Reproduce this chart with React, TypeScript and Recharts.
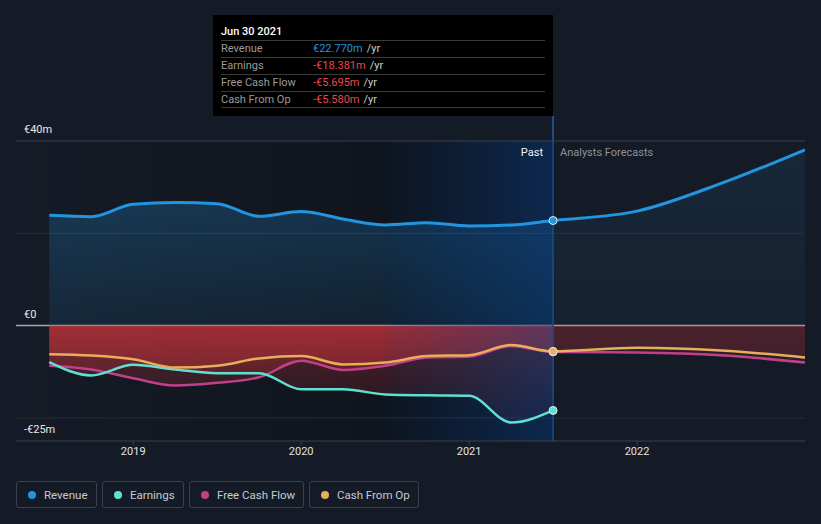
import React from "react";
import {
  ComposedChart,
  Area,
  Line,
  XAxis,
  YAxis,
  ReferenceLine,
  ReferenceArea,
  ReferenceDot,
} from "recharts";

// quarterly trailing figures, €m
const quarters = [
  2018.5, 2018.75, 2019, 2019.25, 2019.5, 2019.75, 2020, 2020.25, 2020.5,
  2020.75, 2021, 2021.25, 2021.5,
];
const revenuePast = [23.9, 23.6, 26.3, 26.7, 26.4, 23.7, 24.7, 23.1, 21.8, 22.3, 21.6, 21.8, 22.77];
const earningsPast = [-7.9, -10.8, -8.5, -9.5, -10.3, -10.3, -13.8, -13.8, -14.9, -15.1, -15.2, -21.0, -18.381];
const fcfPast = [-8.7, -9.5, -11.4, -13.0, -12.4, -11.2, -7.6, -9.6, -8.7, -6.9, -6.7, -4.4, -5.695];
const cfoPast = [-6.2, -6.5, -7.3, -9.1, -8.7, -7.1, -6.6, -8.4, -8.0, -6.6, -6.4, -4.2, -5.58];

// analyst forecasts
const forecastYears = [2021.5, 2022, 2022.5, 2023];
const revenueForecast = [22.77, 24.8, 30.8, 38.1];
const fcfForecast = [-5.695, -5.8, -6.4, -8.0];
const cfoForecast = [-5.58, -4.8, -5.4, -6.9];

const yearTicks = [2019, 2020, 2021, 2022];

const BG = "#151b26";
const BLUE = "#2394df";
const TEAL = "#5fe0d2";
const PINK = "#c2408a";
const ORANGE = "#e9ae5c";
const NEG = "#e8484e";

const times = [...quarters, ...forecastYears.slice(1)];
const data = times.map((t) => {
  const p = quarters.indexOf(t);
  const f = forecastYears.indexOf(t);
  const past = p >= 0;
  return {
    t,
    revenue: past ? revenuePast[p] : revenueForecast[f],
    earnings: past ? earningsPast[p] : undefined,
    fcf: past ? fcfPast[p] : fcfForecast[f],
    cfo: past ? cfoPast[p] : cfoForecast[f],
    revP: past ? revenuePast[p] : undefined,
    revF: f >= 0 ? revenueForecast[f] : undefined,
    earnP: past ? earningsPast[p] : undefined,
    fcfP: past ? fcfPast[p] : undefined,
    cfoP: past ? cfoPast[p] : undefined,
    fcfF: f >= 0 ? fcfForecast[f] : undefined,
    cfoF: f >= 0 ? cfoForecast[f] : undefined,
  };
});

const last = quarters.length - 1;

const tooltipRows = [
  { label: "Revenue", value: "€22.770m", color: BLUE },
  { label: "Earnings", value: "-€18.381m", color: NEG },
  { label: "Free Cash Flow", value: "-€5.695m", color: NEG },
  { label: "Cash From Op", value: "-€5.580m", color: NEG },
];

const legendItems = [
  { name: "Revenue", color: BLUE, left: 16, width: 81 },
  { name: "Earnings", color: TEAL, left: 102, width: 82 },
  { name: "Free Cash Flow", color: PINK, left: 189, width: 115 },
  { name: "Cash From Op", color: ORANGE, left: 309, width: 110 },
];

const axisLabel = (value: string) => ({
  value,
  position: "insideBottomLeft" as const,
  offset: 8,
  fill: "#e6e8eb",
  fontSize: 11,
});

export default function App() {
  return (
    <div
      style={{
        position: "relative",
        width: 821,
        height: 524,
        background: BG,
        fontFamily: "Roboto, 'Open Sans', sans-serif",
        overflow: "hidden",
      }}
    >
      <style>{`body{margin:0;background:${BG}}`}</style>
      <ComposedChart
        width={821}
        height={524}
        data={data}
        margin={{ top: 141, right: 16, bottom: 53, left: 16 }}
      >
        <defs>
          <linearGradient id="blueP" gradientUnits="userSpaceOnUse" x1="0" y1="141" x2="0" y2="326">
            <stop offset="0" stopColor={BLUE} stopOpacity={0.32} />
            <stop offset="1" stopColor={BLUE} stopOpacity={0.1} />
          </linearGradient>
          <linearGradient id="blueF" gradientUnits="userSpaceOnUse" x1="0" y1="141" x2="0" y2="326">
            <stop offset="0" stopColor={BLUE} stopOpacity={0.11} />
            <stop offset="1" stopColor={BLUE} stopOpacity={0.05} />
          </linearGradient>
          <linearGradient id="redP" gradientUnits="userSpaceOnUse" x1="0" y1="326" x2="0" y2="441">
            <stop offset="0" stopColor="#d8353c" stopOpacity={0.34} />
            <stop offset="1" stopColor="#d8353c" stopOpacity={0.02} />
          </linearGradient>
          <linearGradient id="redF" gradientUnits="userSpaceOnUse" x1="0" y1="326" x2="0" y2="441">
            <stop offset="0" stopColor="#c8303c" stopOpacity={0.16} />
            <stop offset="1" stopColor="#c8303c" stopOpacity={0.06} />
          </linearGradient>
          <linearGradient id="shade" x1="0" y1="0" x2="1" y2="0">
            <stop offset="0" stopColor="#000" stopOpacity={0} />
            <stop offset="1" stopColor="#000" stopOpacity={0.25} />
          </linearGradient>
          <linearGradient id="highlight" x1="0" y1="0" x2="1" y2="0">
            <stop offset="0" stopColor="#0a4696" stopOpacity={0.06} />
            <stop offset="1" stopColor="#0a4696" stopOpacity={0.42} />
          </linearGradient>
        </defs>

        <XAxis
          dataKey="t"
          type="number"
          domain={[2018.302, 2023]}
          ticks={yearTicks}
          allowDataOverflow
          height={30}
          tickSize={4}
          axisLine={{ stroke: "#3b404a" }}
          tickLine={{ stroke: "#3b404a" }}
          tick={{ fill: "#e0e2e6", fontSize: 11 }}
        />
        <YAxis type="number" domain={[-25, 40]} hide allowDataOverflow />

        <ReferenceArea x1={2018.302} x2={2020.5} fill="url(#shade)" fillOpacity={1} zIndex={-50} />
        <ReferenceArea x1={2020.5} x2={2021.5} fill="#000" fillOpacity={0.32} zIndex={-50} />
        <ReferenceLine y={40} stroke="#3d424c" label={axisLabel("€40m")} zIndex={-40} />
        <ReferenceLine y={20} stroke="#262c37" zIndex={-40} />
        <ReferenceLine y={-20} stroke="#262c37" zIndex={-40} />
        <ReferenceLine y={-25} stroke="none" label={axisLabel("-€25m")} zIndex={-40} />
        <ReferenceLine y={0} stroke="#a9abb0" strokeWidth={1.5} label={axisLabel("€0")} zIndex={-40} />

        <Area dataKey="revP" type="monotone" stroke="none" fill="url(#blueP)" fillOpacity={1} isAnimationActive={false} zIndex={100} />
        <Area dataKey="revF" type="monotone" stroke="none" fill="url(#blueF)" fillOpacity={1} isAnimationActive={false} zIndex={100} />
        <Area dataKey="earnP" type="monotone" stroke="none" fill="url(#redP)" fillOpacity={1} isAnimationActive={false} zIndex={100} />
        <Area dataKey="fcfP" type="monotone" stroke="none" fill="url(#redP)" fillOpacity={1} isAnimationActive={false} zIndex={100} />
        <Area dataKey="cfoP" type="monotone" stroke="none" fill="url(#redP)" fillOpacity={1} isAnimationActive={false} zIndex={100} />
        <Area dataKey="fcfF" type="monotone" stroke="none" fill="url(#redF)" fillOpacity={1} isAnimationActive={false} zIndex={100} />
        <Area dataKey="cfoF" type="monotone" stroke="none" fill="url(#redF)" fillOpacity={1} isAnimationActive={false} zIndex={100} />

        <ReferenceArea x1={2020.5} x2={2021.5} fill="url(#highlight)" fillOpacity={1} zIndex={150} />
        <ReferenceLine x={2021.5} stroke="#1d4c85" strokeWidth={1.5} zIndex={160} />

        <Line dataKey="revenue" type="monotone" stroke={BLUE} strokeWidth={3} dot={false} activeDot={false} isAnimationActive={false} zIndex={400} />
        <Line dataKey="fcf" type="monotone" stroke={PINK} strokeWidth={2.5} dot={false} activeDot={false} isAnimationActive={false} zIndex={400} />
        <Line dataKey="earnings" type="monotone" stroke={TEAL} strokeWidth={2.5} dot={false} activeDot={false} isAnimationActive={false} zIndex={400} />
        <Line dataKey="cfo" type="monotone" stroke={ORANGE} strokeWidth={2.5} dot={false} activeDot={false} isAnimationActive={false} zIndex={400} />

        <ReferenceDot x={quarters[last]} y={revenuePast[last]} r={4} fill={BLUE} stroke="#dfe7f0" strokeWidth={1} zIndex={600} />
        <ReferenceDot x={quarters[last]} y={earningsPast[last]} r={4} fill={TEAL} stroke="#dfe7f0" strokeWidth={1} zIndex={600} />
        <ReferenceDot x={quarters[last]} y={fcfPast[last]} r={4} fill={PINK} stroke="#dfe7f0" strokeWidth={1} zIndex={600} />
        <ReferenceDot x={quarters[last]} y={cfoPast[last]} r={4} fill={ORANGE} stroke="#dfe7f0" strokeWidth={1} zIndex={600} />
      </ComposedChart>

      {/* Past / forecast captions */}
      <div style={{ position: "absolute", right: 821 - 543, top: 146, fontSize: 11, color: "#f2f4f6" }}>Past</div>
      <div style={{ position: "absolute", left: 560, top: 146, fontSize: 11, color: "#8c919a" }}>
        Analysts Forecasts
      </div>

      {/* connector from tooltip to marker line */}
      <div style={{ position: "absolute", left: 552, top: 116, width: 1.5, height: 25, background: "#1d4c85" }} />

      {/* static tooltip */}
      <div
        style={{
          position: "absolute",
          left: 213,
          top: 15,
          width: 340,
          height: 101,
          background: "#000",
          boxSizing: "border-box",
          padding: "9px 8px 0 8px",
          fontSize: 11,
        }}
      >
        <div style={{ height: 16, lineHeight: "16px", color: "#fff", fontWeight: 500 }}>Jun 30 2021</div>
        {tooltipRows.map((r, i) => (
          <div
            key={r.label}
            style={{
              display: "flex",
              height: 17,
              lineHeight: "16px",
              borderTop: "1px solid #3a3a3a",
              borderBottom: i === tooltipRows.length - 1 ? "1px solid #3a3a3a" : undefined,
              boxSizing: "border-box",
            }}
          >
            <span style={{ width: 92, color: "#9b9b9b" }}>{r.label}</span>
            <span style={{ color: r.color }}>{r.value}</span>
            <span style={{ color: "#cfcfcf", marginLeft: 4 }}>/yr</span>
          </div>
        ))}
      </div>

      {/* legend */}
      {legendItems.map((it) => (
        <div
          key={it.name}
          style={{
            position: "absolute",
            left: it.left,
            top: 481,
            width: it.width,
            height: 27,
            boxSizing: "border-box",
            border: "1px solid #3c414b",
            borderRadius: 3,
            display: "flex",
            alignItems: "center",
            fontSize: 11.5,
            color: "#c7cad0",
          }}
        >
          <span
            style={{
              width: 8,
              height: 8,
              borderRadius: 4,
              background: it.color,
              marginLeft: 11,
              marginRight: 8,
              flexShrink: 0,
            }}
          />
          {it.name}
        </div>
      ))}
    </div>
  );
}
